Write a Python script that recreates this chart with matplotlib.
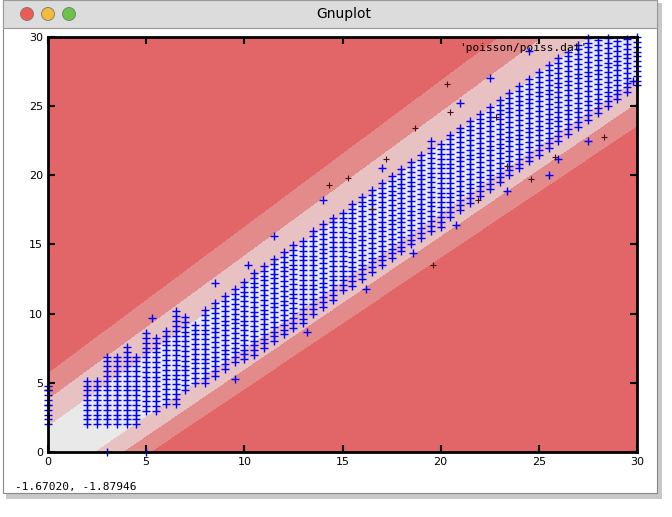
import matplotlib

matplotlib.use("Agg")
import matplotlib.pyplot as plt
import numpy as np
from matplotlib.patches import Rectangle, Ellipse

# column x positions (step 0.5) and the y extent of the blue points in each column
col_x = [0, 0.5, 1, 1.5, 2, 2.5, 3, 3.5, 4, 4.5, 5, 5.5, 6, 6.5, 7, 7.5, 8, 8.5, 9, 9.5,
         10, 10.5, 11, 11.5, 12, 12.5, 13, 13.5, 14, 14.5, 15, 15.5, 16, 16.5, 17, 17.5,
         18, 18.5, 19, 19.5, 20, 20.5, 21, 21.5, 22, 22.5, 23, 23.5, 24, 24.5, 25, 25.5,
         26, 26.5, 27, 27.5, 28, 28.5, 29, 29.5, 30]
col_lo = [2, 9, 9, 9, 2, 2, 2, 2, 2, 2, 3, 3, 3.5, 3.5, 4.5, 5, 5, 5.5, 6, 6.5,
          6.7, 7, 7.5, 8, 8.5, 9, 9.3, 10, 10.5, 11, 11.7, 12, 12.5, 13, 13.5, 14,
          14.5, 15, 15.5, 16, 16.3, 17, 17.5, 18, 18.5, 19, 19.5, 20, 20.5, 21, 21.5, 22,
          22.5, 23, 23.5, 24, 24.5, 25, 25.5, 26, 26.5]
col_hi = [5, 0, 0, 0, 5.3, 5.3, 7, 7, 7.8, 7.2, 8.7, 8.5, 9, 10, 10, 9.5, 10.5, 11, 11.5, 12,
          12.5, 13, 13.5, 14, 14.5, 15, 15.5, 16, 16.5, 17, 17.5, 18, 18.5, 19, 19.5, 20,
          20.5, 21, 21.5, 22, 22.5, 23, 23.5, 24, 24.5, 25, 25.5, 26, 26.5, 27, 27.5, 28,
          28.5, 29, 29.5, 30, 30, 30, 30, 30, 30]

# scattered outliers outside the main cloud
out_x = [0, 0, 5.3, 6.5, 8.5, 10.2, 11.5, 14, 17, 19.5, 21, 22.5, 24.5, 26, 27.5, 29.8, 3, 5,
         25.5, 9.5, 13.2, 16.2, 18.6, 20.8, 23.4]
out_y = [4.5, 3.4, 9.7, 10.2, 12.2, 13.5, 15.6, 18.2, 20.5, 22.5, 25.2, 27, 29, 21.2, 22.5,
         26.8, 0, 0, 20, 5.3, 8.7, 11.8, 14.4, 16.4, 18.9]
dark_x = [14.3, 15.3, 16.5, 17.2, 18.7, 20.5, 20.3, 22.8, 23.4, 25.8, 28.3, 19.6, 21.9, 24.6]
dark_y = [19.3, 19.8, 17.6, 21.2, 23.4, 24.6, 26.6, 24.2, 20.7, 21.3, 22.8, 13.5, 18.2, 19.7]

# band limits on (y - x) / (1 + 0.005 (x + y))
band_levels = [-100, -5.05, -3.7, -2.3, 1.9, 3.8, 5.6, 100]
band_colors = ["#e26567", "#e38b8b", "#e8c2c2", "#e9e9e9", "#e8c2c2", "#e38b8b", "#e26567"]

W, H = 672, 517
fig = plt.figure(figsize=(W / 100, H / 100), dpi=100)
fig.patch.set_facecolor("white")

# window frame, shadow and title bar
fig.patches.append(Rectangle((6 / W, 18 / H), 656 / W, 496 / H, transform=fig.transFigure,
                             facecolor="#c8c8c8", edgecolor="none", zorder=-3))
fig.patches.append(Rectangle((3 / W, 24 / H), 654 / W, 493 / H, transform=fig.transFigure,
                             facecolor="white", edgecolor="#888888", lw=0.8, zorder=-2))
fig.patches.append(Rectangle((3 / W, 489 / H), 654 / W, 28 / H, transform=fig.transFigure,
                             facecolor="#dcdcdc", edgecolor="#999999", lw=0.8, zorder=-1))
for cx, col in [(27, "#ec5b55"), (48, "#f2bb3b"), (69, "#69c346")]:
    fig.patches.append(Ellipse((cx / W, 503 / H), 13 / W, 13 / H, transform=fig.transFigure,
                               facecolor=col, edgecolor="#777777", lw=0.6, zorder=0))
fig.text(344 / W, 503 / H, "Gnuplot", ha="center", va="center", fontsize=10)
fig.text(15 / W, 30 / H, "-1.67020, -1.87946", fontsize=8, family="DejaVu Sans Mono",
         va="center")

ax = fig.add_axes([48 / W, (517 - 452) / H, 589 / W, 415 / H], zorder=5)

gx = np.linspace(0, 30, 401)
gxx, gyy = np.meshgrid(gx, gx)
ax.contourf(gxx, gyy, (gyy - gxx) / (1 + 0.005 * (gxx + gyy)),
            levels=band_levels, colors=band_colors)

px, py = [], []
for x, lo, hi in zip(col_x, col_lo, col_hi):
    for y in np.arange(lo, hi + 0.01, 0.35):
        px.append(x)
        py.append(y)
ax.plot(px, py, "+", color="#0000ff", ms=6, mew=1, clip_on=False)
ax.plot(out_x, out_y, "+", color="#0000ff", ms=6, mew=1, clip_on=False)
ax.plot(dark_x, dark_y, "+", color="#4a1010", ms=5, mew=0.8)

ax.text(0.915, 0.985, "'poisson/poiss.dat'", transform=ax.transAxes, ha="right", va="top",
        fontsize=8, family="DejaVu Sans Mono")

ax.set_xlim(0, 30)
ax.set_ylim(0, 30)
ax.set_xticks(range(0, 31, 5))
ax.set_yticks(range(0, 31, 5))
ax.tick_params(direction="in", top=True, right=True, length=5, width=1.5, labelsize=8)
for s in ax.spines.values():
    s.set_linewidth(2)

fig.savefig("out.png", dpi=100, facecolor=fig.get_facecolor())
